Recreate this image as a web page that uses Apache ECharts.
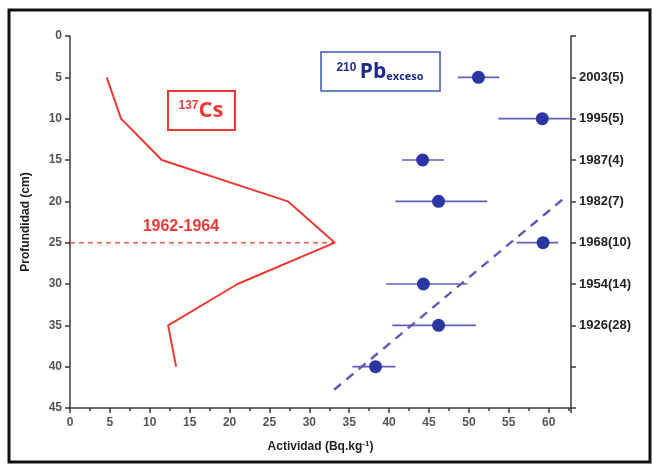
<!DOCTYPE html>
<html>
<head>
<meta charset="utf-8">
<script src="https://cdn.jsdelivr.net/npm/echarts@6/dist/echarts.min.js"></script>
<style>
    html, body { margin: 0; padding: 0; background: #fff; }
    #chart { width: 653px; height: 466px; }
</style>
</head>
<body>
<div id="chart"></div>
<script>
'use strict';

// profundidad (cm)
var csDepth = [5, 10, 15, 20, 25, 30, 35, 40];
// actividad 137Cs
var csActivity = [4.6, 6.4, 11.5, 27.3, 33.2, 21, 12.3, 13.3];

var pbDepth = [5, 10, 15, 20, 25, 30, 35, 40];
var pbActivity = [51.2, 59.2, 44.2, 46.2, 59.3, 44.3, 46.2, 38.3];
var pbLow = [48.6, 53.7, 41.6, 40.8, 56.0, 39.6, 40.4, 35.4];
var pbHigh = [53.8, 62.8, 46.9, 52.3, 61.2, 49.8, 50.9, 40.8];

// recta de ajuste (discontinua)
var trendActivity = [33.1, 61.7];
var trendDepth = [42.8, 19.8];

// pico 1962-1964
var peakDepth = 25;
var peakActivity = 33.2;
var peakLabel = '1962-1964';

// etiquetas del eje derecho
var dateTicks = {
    5: '2003(5)',
    10: '1995(5)',
    15: '1987(4)',
    20: '1982(7)',
    25: '1968(10)',
    30: '1954(14)',
    35: '1926(28)'
};

var RED = '#ec3a32';
var BLUE = '#2b36a2';

function zip(a, b) {
    return a.map(function (v, i) {
        return [v, b[i]];
    });
}

var chart = echarts.init(document.getElementById('chart'));

var axisLine = {show: true, onZero: false, lineStyle: {color: '#3a3a3a', width: 1.5}};
var axisTick = {show: true, length: 5, lineStyle: {color: '#3a3a3a', width: 1.5}};
var labelFont = {fontFamily: 'Liberation Sans', fontWeight: 'bold', fontSize: 12, color: '#555'};

chart.setOption({
    animation: false,
    backgroundColor: '#fff',
    grid: {left: 70, right: 82, top: 36, bottom: 58},
    xAxis: {
        type: 'value',
        min: 0,
        max: 62.8,
        interval: 5,
        name: 'Actividad (Bq.kg{sup|-1})',
        nameLocation: 'middle',
        nameGap: 32,
        nameTextStyle: {
            fontFamily: 'Liberation Sans',
            fontWeight: 'bold',
            fontSize: 12,
            color: '#222',
            rich: {
                sup: {fontSize: 8, fontWeight: 'bold', color: '#222', verticalAlign: 'top', padding: [0, 0, 6, 0]}
            }
        },
        axisLine: axisLine,
        axisTick: axisTick,
        minorTick: {show: true, splitNumber: 2, length: 3, lineStyle: {color: '#3a3a3a', width: 1.5}},
        splitLine: {show: false},
        axisLabel: Object.assign({margin: 9, showMaxLabel: false}, labelFont)
    },
    yAxis: [{
        type: 'value',
        inverse: true,
        min: 0,
        max: 45,
        interval: 5,
        name: 'Profundidad (cm)',
        nameLocation: 'middle',
        nameGap: 38,
        nameTextStyle: {fontFamily: 'Liberation Sans', fontWeight: 'bold', fontSize: 12, color: '#222'},
        axisLine: axisLine,
        axisTick: axisTick,
        splitLine: {show: false},
        axisLabel: Object.assign({margin: 8}, labelFont)
    }, {
        type: 'value',
        inverse: true,
        position: 'right',
        min: 0,
        max: 45,
        interval: 5,
        axisLine: axisLine,
        axisTick: axisTick,
        splitLine: {show: false},
        axisLabel: {
            margin: 8,
            fontFamily: 'Liberation Sans',
            fontWeight: 'bold',
            fontSize: 13,
            color: '#222',
            formatter: function (v) {
                return dateTicks[v] || '';
            }
        }
    }],
    series: [{
        name: '137Cs',
        type: 'line',
        data: zip(csActivity, csDepth),
        symbol: 'none',
        lineStyle: {color: RED, width: 2}
    }, {
        name: 'pico',
        type: 'line',
        data: [[0, peakDepth], [peakActivity, peakDepth]],
        symbol: 'none',
        lineStyle: {color: RED, width: 1.5, type: [5, 4], opacity: 0.85},
        markPoint: {
            symbol: 'circle',
            symbolSize: 0,
            data: [{coord: [13.9, 23.0], value: peakLabel}],
            label: {
                show: true,
                position: 'inside',
                formatter: peakLabel,
                fontFamily: 'Liberation Sans',
                fontWeight: 'bold',
                fontSize: 16,
                color: RED
            }
        }
    }, {
        name: 'error',
        type: 'custom',
        data: pbDepth.map(function (d, i) {
            return [pbLow[i], pbHigh[i], d];
        }),
        renderItem: function (params, api) {
            var a = api.coord([api.value(0), api.value(2)]);
            var b = api.coord([api.value(1), api.value(2)]);
            return {
                type: 'line',
                shape: {x1: a[0], y1: a[1], x2: b[0], y2: b[1]},
                style: {stroke: '#5d60b8', lineWidth: 1.6}
            };
        },
        encode: {x: [0, 1], y: 2}
    }, {
        name: '210Pb',
        type: 'scatter',
        data: zip(pbActivity, pbDepth),
        symbolSize: 13,
        itemStyle: {color: BLUE, opacity: 1},
        z: 5
    }, {
        name: 'ajuste',
        type: 'line',
        data: zip(trendActivity, trendDepth),
        symbol: 'none',
        lineStyle: {color: '#6a58b8', width: 2.5, type: [9, 7]}
    }],
    graphic: [{
        type: 'rect',
        shape: {x: 9, y: 10, width: 641, height: 452},
        style: {fill: 'none', stroke: '#111', lineWidth: 3},
        silent: true
    }, {
        type: 'rect',
        shape: {x: 168, y: 91, width: 67, height: 39},
        style: {fill: '#fff', stroke: RED, lineWidth: 2}
    }, {
        type: 'text',
        x: 201,
        y: 111,
        style: {
            text: '{sup|137}{big|Cs}',
            align: 'center',
            verticalAlign: 'middle',
            rich: {
                sup: {fontFamily: 'Liberation Sans', fontWeight: 'bold', fontSize: 12, fill: RED, verticalAlign: 'top', padding: [0, 0, 8, 0]},
                big: {fontFamily: 'Open Sans', fontWeight: 'bold', fontSize: 22, fill: RED}
            }
        }
    }, {
        type: 'rect',
        shape: {x: 321, y: 52, width: 119, height: 39},
        style: {fill: '#fff', stroke: '#3b58b0', lineWidth: 1.5}
    }, {
        type: 'text',
        x: 380,
        y: 72,
        style: {
            text: '{sup|210 }{big|Pb}{sub|exceso}',
            align: 'center',
            verticalAlign: 'middle',
            rich: {
                sup: {fontFamily: 'Liberation Sans', fontWeight: 'bold', fontSize: 12, fill: '#1f2b8c', verticalAlign: 'top', padding: [0, 0, 8, 0]},
                big: {fontFamily: 'Open Sans', fontWeight: 'bold', fontSize: 21, fill: '#1f2b8c'},
                sub: {fontFamily: 'Open Sans', fontWeight: 'bold', fontSize: 11, fill: '#1f2b8c', verticalAlign: 'bottom', padding: [8, 0, 0, 0]}
            }
        }
    }]
});
</script>
</body>
</html>
